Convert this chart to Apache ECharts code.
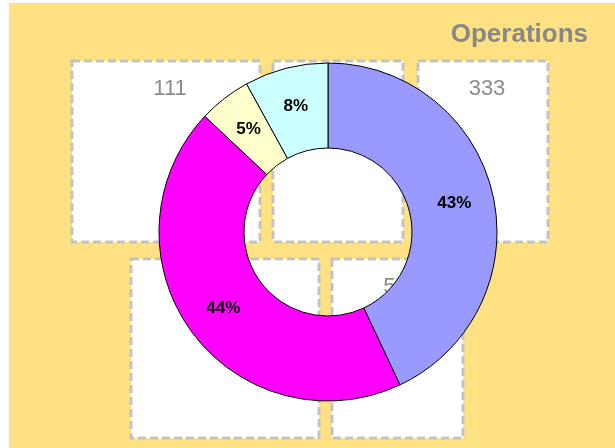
<!DOCTYPE html>
<html>
<head>
<meta charset="utf-8">
<script src="https://cdn.jsdelivr.net/npm/echarts@6/dist/echarts.min.js"></script>
<style>
  html, body { margin: 0; padding: 0; background: #ffffff; }
  #chart { width: 615px; height: 448px; }
</style>
</head>
<body>
<div id="chart"></div>
<script>
// Donut data: share of each category (percent)
const categories = ['A', 'B', 'C', 'D'];
const shares = [43, 44, 5, 8];
const sliceColors = ['#9999FF', '#FF00FF', '#FFFFCC', '#CCFFFF'];

// Captions of the dashed panels behind the donut
const panelLabels = ['111', '222', '333', '444', '555'];
// Panel rectangles [x, y, width, height]
const panelRects = [
  [72, 61, 188, 181],
  [273, 61, 130, 181],
  [418, 61, 130, 181],
  [131, 259, 188, 179],
  [332, 259, 131, 179]
];

const chart = echarts.init(document.getElementById('chart'), null, { renderer: 'canvas' });

const graphics = [
  {
    type: 'rect',
    z: -10,
    shape: { x: 9, y: 3, width: 606, height: 445 },
    style: { fill: '#FDE182' },
    silent: true
  }
];

panelRects.forEach(function (r, i) {
  graphics.push({
    type: 'rect',
    z: -5,
    shape: { x: r[0], y: r[1], width: r[2], height: r[3] },
    style: { fill: '#ffffff', stroke: '#C3C3C3', lineWidth: 3, lineDash: [8, 4] },
    silent: true
  });
  graphics.push({
    type: 'text',
    z: -4,
    x: r[0] + r[2] / 2 + 4,
    y: r[1] + 17,
    style: {
      text: panelLabels[i],
      fill: '#8C8C8C',
      font: '22px "Liberation Sans", Arial, sans-serif',
      textAlign: 'center',
      textVerticalAlign: 'top'
    },
    silent: true
  });
});

chart.setOption({
  backgroundColor: '#ffffff',
  animation: false,
  title: {
    text: 'Operations',
    right: 22,
    top: 17,
    textStyle: {
      fontFamily: '"Liberation Sans", Arial, sans-serif',
      fontSize: 26,
      fontWeight: 'bold',
      color: '#888888'
    }
  },
  graphic: graphics,
  series: [{
    type: 'pie',
    center: [328, 232],
    radius: [84, 169],
    startAngle: 90,
    clockwise: true,
    avoidLabelOverlap: false,
    color: sliceColors,
    itemStyle: { borderColor: '#000000', borderWidth: 1 },
    label: {
      show: true,
      position: 'inside',
      formatter: function (p) { return p.value + '%'; },
      color: '#000000',
      fontFamily: '"Liberation Sans", Arial, sans-serif',
      fontSize: 17,
      fontWeight: 'bold'
    },
    labelLine: { show: false },
    emphasis: { disabled: true },
    data: categories.map(function (c, i) { return { name: c, value: shares[i] }; })
  }]
});
</script>
</body>
</html>
